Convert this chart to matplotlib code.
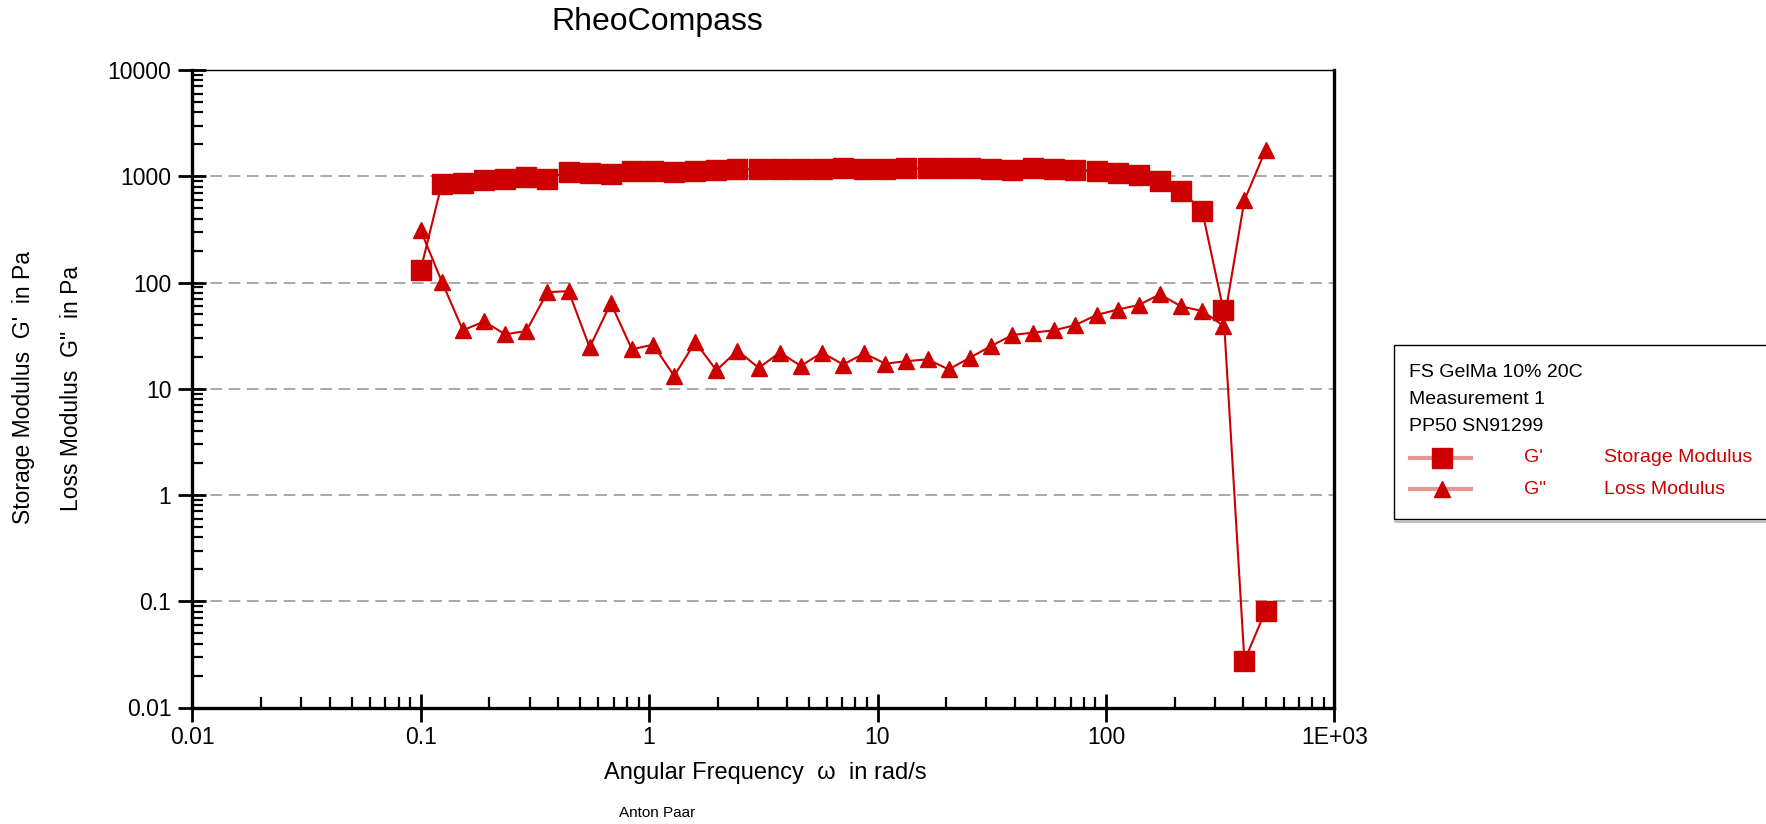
import matplotlib.pyplot as plt
from matplotlib.ticker import FixedLocator, LogLocator, NullFormatter
from matplotlib.patches import Rectangle
from matplotlib.lines import Line2D

plt.rcParams.update({'font.family': 'sans-serif',
                     'font.sans-serif': ['Liberation Sans', 'DejaVu Sans']})

# frequency sweep, angular frequency in rad/s
omega = [0.1, 0.1237, 0.1531, 0.1894, 0.2344, 0.29, 0.3588, 0.444, 0.5493, 0.6797,
         0.8409, 1.0405, 1.287, 1.593, 1.971, 2.438, 3.017, 3.734, 4.62, 5.716,
         7.071, 8.749, 10.83, 13.39, 16.57, 20.5, 25.37, 31.39, 38.84, 48.06,
         59.46, 73.57, 91.03, 112.6, 139.3, 172.4, 213.3, 264.0, 326.6, 404.1, 500.0]

# storage modulus G' in Pa
g_storage = [132, 854, 873, 923, 951, 993, 951, 1107, 1083, 1060,
             1122, 1130, 1107, 1130, 1156, 1160, 1165, 1160, 1165, 1170,
             1185, 1165, 1180, 1185, 1190, 1190, 1195, 1180, 1156, 1190,
             1160, 1150, 1110, 1080, 1037, 910, 733, 473, 55.6, 0.0275, 0.0814]

# loss modulus G'' in Pa
g_loss = [310, 102, 35.5, 43, 32.5, 35, 81, 83, 24.5, 64,
          23.5, 26, 13.2, 27.5, 14.9, 22.9, 15.7, 21.9, 16.4, 21.9,
          16.9, 21.5, 17.2, 18.2, 18.9, 15.2, 19.6, 25.2, 32, 33.8,
          35.5, 39.8, 49.5, 55.6, 61.4, 77.4, 59.7, 53.9, 39.3, 594, 1758]

xticks = [0.01, 0.1, 1, 10, 100, 1000]
xticklabels = ['0.01', '0.1', '1', '10', '100', '1E+03']
yticks = [0.01, 0.1, 1, 10, 100, 1000, 10000]
yticklabels = ['0.01', '0.1', '1', '10', '100', '1000', '10000']

red = '#cc0000'
W, H = 1766, 824

fig = plt.figure(figsize=(W / 100, H / 100), dpi=100)
ax = fig.add_axes([192.3 / W, (H - 707.5) / H, (1334.3 - 192.3) / W, (707.5 - 70) / H])

ax.plot(omega, g_storage, color=red, lw=1.5, marker='s', ms=15, mec=red, mfc=red, zorder=3)
ax.plot(omega, g_loss, color=red, lw=1.5, marker='^', ms=12, mec=red, mfc=red, zorder=4)

ax.set_xscale('log')
ax.set_yscale('log')
ax.set_xlim(0.01, 1000)
ax.set_ylim(0.01, 10000)

ax.xaxis.set_major_locator(FixedLocator(xticks))
ax.set_xticklabels(xticklabels)
ax.yaxis.set_major_locator(FixedLocator(yticks))
ax.set_yticklabels(yticklabels)
ax.xaxis.set_minor_locator(LogLocator(base=10, subs=range(2, 10), numticks=20))
ax.yaxis.set_minor_locator(LogLocator(base=10, subs=range(2, 10), numticks=20))
ax.xaxis.set_minor_formatter(NullFormatter())
ax.yaxis.set_minor_formatter(NullFormatter())

ax.tick_params(which='major', direction='inout', length=20, width=2, labelsize=16.5, pad=5)
ax.tick_params(which='minor', direction='in', length=8, width=1.6)
ax.tick_params(axis='x', which='major', pad=3)

for side in ['left', 'bottom', 'right']:
    ax.spines[side].set_linewidth(2.4)
ax.spines['top'].set_linewidth(1)

ax.yaxis.grid(True, which='major', color='#999999', ls=(0, (7, 4)), lw=1.2)
ax.set_axisbelow(True)

fig.text(657 / W, 1 - 22 / H, 'RheoCompass', ha='center', va='center', fontsize=23)
fig.text(765 / W, 1 - 773 / H, 'Angular Frequency  \u03c9  in rad/s',
         ha='center', va='center', fontsize=17)
fig.text(24 / W, 1 - 388 / H, "Storage Modulus  G'  in Pa", rotation=90,
         ha='center', va='center', fontsize=16.5)
fig.text(72 / W, 1 - 388 / H, 'Loss Modulus  G"  in Pa', rotation=90,
         ha='center', va='center', fontsize=16.5)
fig.text(657 / W, 1 - 813 / H, 'Anton Paar', ha='center', va='center', fontsize=11)

# legend box on the right
fig.patches.append(Rectangle((1394 / W, (H - 519) / H), 0.5, (519 - 345) / H,
                             transform=fig.transFigure, fill=False, ec='black', lw=1))
fig.add_artist(Line2D([1395 / W, 1], [(H - 521) / H] * 2, color='#bbbbbb', lw=2))

info = ['FS GelMa 10% 20C', 'Measurement 1', 'PP50 SN91299']
for txt, y in zip(info, [372.7, 400, 426.7]):
    fig.text(1409 / W, 1 - y / H, txt, ha='left', va='center', fontsize=14)

for mk, sym, name, y in [('s', "G'", 'Storage Modulus', 457.7),
                         ('^', 'G"', 'Loss Modulus', 489.3)]:
    fig.add_artist(Line2D([1410 / W, 1471 / W], [1 - y / H] * 2, color='#d85050',
                          alpha=0.6, lw=3))
    fig.add_artist(Line2D([1442 / W], [1 - y / H], marker=mk, ms=15 if mk == 's' else 12,
                          color=red, ls='none'))
    fig.text(1524 / W, 1 - y / H, sym, ha='left', va='center', fontsize=14, color=red)
    fig.text(1604 / W, 1 - y / H, name, ha='left', va='center', fontsize=14, color=red)

fig.savefig('out.png', dpi=100)
